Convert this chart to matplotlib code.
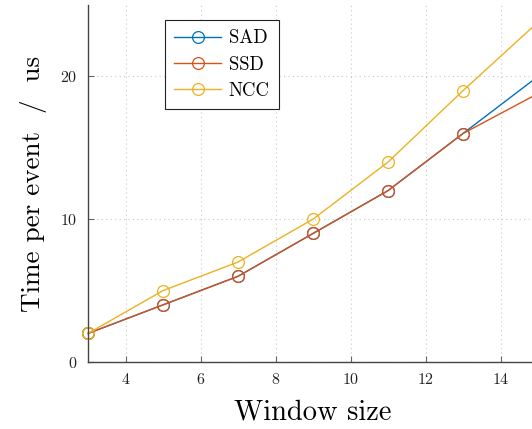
import matplotlib
matplotlib.use("Agg")
import matplotlib.pyplot as plt

plt.rcParams['font.family'] = ['cmr10', 'DejaVu Serif']
plt.rcParams['mathtext.fontset'] = 'cm'
plt.rcParams['axes.formatter.use_mathtext'] = True

window = [3, 5, 7, 9, 11, 13, 15]
sad = [2, 4, 6, 9, 12, 16, 20]
ssd = [2, 4, 6, 9, 12, 16, 18.8]
ncc = [2, 5, 7, 10, 14, 19, 23.8]
series = [("SAD", sad, "#0072BD"), ("SSD", ssd, "#D95319"), ("NCC", ncc, "#EDB120")]
xticks = [4, 6, 8, 10, 12, 14]
yticks = [0, 10, 20]

fig = plt.figure(figsize=(5.32, 4.29), dpi=100)
W, H = 532, 429
x0, x1 = 88, 538
y0, y1 = 362, 5
ax = fig.add_axes([x0 / W, 1 - y0 / H, (x1 - x0) / W, (y0 - y1) / H])

for name, vals, col in series:
    ax.plot(window, vals, color=col, lw=1.0, marker='o', markersize=8.5,
            markerfacecolor='none', markeredgecolor=col, markeredgewidth=0.9,
            label=name, clip_on=False)

ax.set_xlim(3, 15)
ax.set_ylim(0, 25)
ax.set_xticks(xticks)
ax.set_yticks(yticks)
ax.grid(True, linestyle=(0, (1, 3)), color='#c8c8c8', lw=0.8)
ax.spines['top'].set_visible(False)
ax.spines['right'].set_visible(False)
for s in ['left', 'bottom']:
    ax.spines[s].set_color('#444444')
    ax.spines[s].set_linewidth(1.0)
ax.tick_params(direction='in', length=4, width=0.8, color='#666666', labelsize=11.5,
               labelcolor='#222222')
ax.tick_params(axis='x', pad=7)
ax.tick_params(axis='y', pad=8)
ax.set_xlabel("Window size", fontsize=20.5, labelpad=9)
ax.set_ylabel("Time per event  /  us", fontsize=19.5, labelpad=9)

leg = ax.legend(loc='upper left', bbox_to_anchor=((165 - x0) / (x1 - x0), 1 - (20 - y1) / (y0 - y1)),
                fontsize=13.5, frameon=True, fancybox=False, edgecolor='#222222',
                framealpha=1, borderaxespad=0, handlelength=2.5, handletextpad=0.4,
                labelspacing=0.45, borderpad=0.5)
leg.get_frame().set_linewidth(0.8)

fig.savefig("out.png", dpi=100)
